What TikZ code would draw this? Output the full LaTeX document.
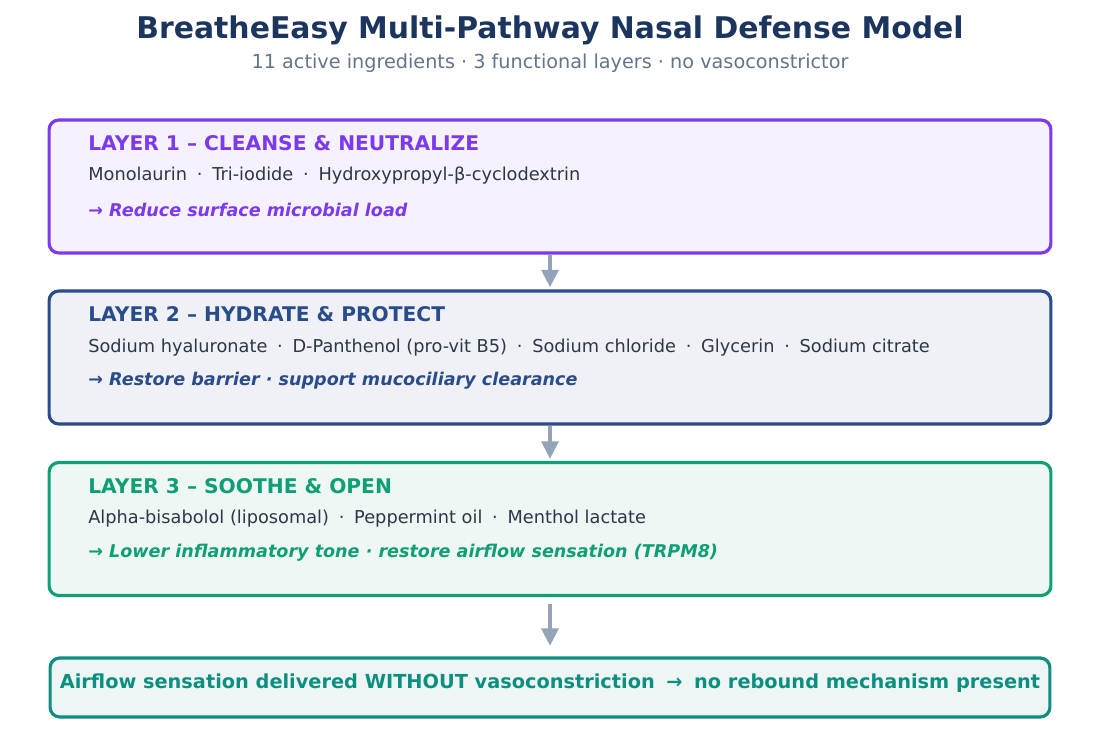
\documentclass[tikz,border=0pt]{standalone}
\usepackage{fontspec}
\setmainfont{DejaVu Sans}
\usetikzlibrary{arrows.meta}
\definecolor{titleblue}{HTML}{1B355E}
\definecolor{subgray}{HTML}{64748B}
\definecolor{ingtext}{HTML}{2D3748}
\definecolor{arrowgray}{HTML}{94A3B8}
\definecolor{purpleline}{HTML}{7C3AED}
\definecolor{purplefill}{HTML}{F5F1FD}
\definecolor{blueline}{HTML}{2B4C8A}
\definecolor{bluefill}{HTML}{EFF1F6}
\definecolor{greenline}{HTML}{0E9F76}
\definecolor{greenfill}{HTML}{EEF7F4}
\definecolor{tealline}{HTML}{0D8F80}
\definecolor{tealfill}{HTML}{EEF6F5}
\newcommand{\isep}{\hspace{0.55em}·\hspace{0.55em}}
\begin{document}
\begin{tikzpicture}[x=0.02cm, y=-0.02cm,
	layer/.style = {draw, line width=1.8pt, rounded corners=5.5pt, minimum width=20.04cm, minimum height=2.66cm, inner sep=0pt},
	head/.style = {anchor=west, inner sep=0pt, font=\fontsize{11.5}{14}\selectfont\bfseries},
	ingr/.style = {anchor=west, inner sep=0pt, text=ingtext, font=\fontsize{10.1}{12}\selectfont},
	goal/.style = {anchor=west, inner sep=0pt, font=\fontsize{10}{12}\selectfont\bfseries\itshape},
	flow/.style = {draw=arrowgray, line width=2.2pt, -{Triangle[width=9.6pt, length=10pt]}}]

		\useasboundingbox (0,0) rectangle (1100,743);

		\node[inner sep=0pt, text=titleblue, font=\fontsize{17}{20}\selectfont\bfseries] (title) at (550,30) {BreatheEasy Multi-Pathway Nasal Defense Model};
		\node[inner sep=0pt, text=subgray, font=\fontsize{10.95}{13}\selectfont] (sub) at (550,63) {11 active ingredients · 3 functional layers · no vasoconstrictor};

		\node[layer, draw=purpleline, fill=purplefill] (l1) at (550,186.5) {};
		\node[layer, draw=blueline, fill=bluefill] (l2) at (550,357.5) {};
		\node[layer, draw=greenline, fill=greenfill] (l3) at (550,529) {};
		\node[layer, draw=tealline, fill=tealfill, minimum width=20cm, minimum height=1.18cm] (res) at (550,687.5) {};

		\node[head, text=purpleline] (h1) at (88,143.5) {LAYER 1 – CLEANSE \& NEUTRALIZE};
		\node[ingr] (i1) at (88,175.5) {Monolaurin\isep Tri-iodide\isep Hydroxypropyl-β-cyclodextrin};
		\node[goal, text=purpleline] (g1) at (88,209.5) {→ Reduce surface microbial load};

		\node[head, text=blueline] (h2) at (88,314.5) {LAYER 2 – HYDRATE \& PROTECT};
		\node[ingr] (i2) at (88,347.5) {Sodium hyaluronate\isep D-Panthenol (pro-vit B5)\isep Sodium chloride\isep Glycerin\isep Sodium citrate};
		\node[goal, text=blueline] (g2) at (88,380.5) {→ Restore barrier · support mucociliary clearance};

		\node[head, text=greenline] (h3) at (88,486.5) {LAYER 3 – SOOTHE \& OPEN};
		\node[ingr] (i3) at (88,518.5) {Alpha-bisabolol (liposomal)\isep Peppermint oil\isep Menthol lactate};
		\node[goal, text=greenline] (g3) at (88,552.5) {→ Lower inflammatory tone · restore airflow sensation (TRPM8)};

		\node[inner sep=0pt, text=tealline, font=\fontsize{11}{14}\selectfont\bfseries] (rt) at (550,683) {Airflow sensation delivered WITHOUT vasoconstriction\hspace{0.6em}→\hspace{0.6em}no rebound mechanism present};

		\draw[flow, shorten >=1.2pt] (l1.south) -- (l2.north);
		\draw[flow, shorten >=1.2pt] (l2.south) -- (l3.north);
		\draw[flow, shorten <=4pt, shorten >=6pt] (l3.south) -- (res.north);
	\end{tikzpicture}
\end{document}
